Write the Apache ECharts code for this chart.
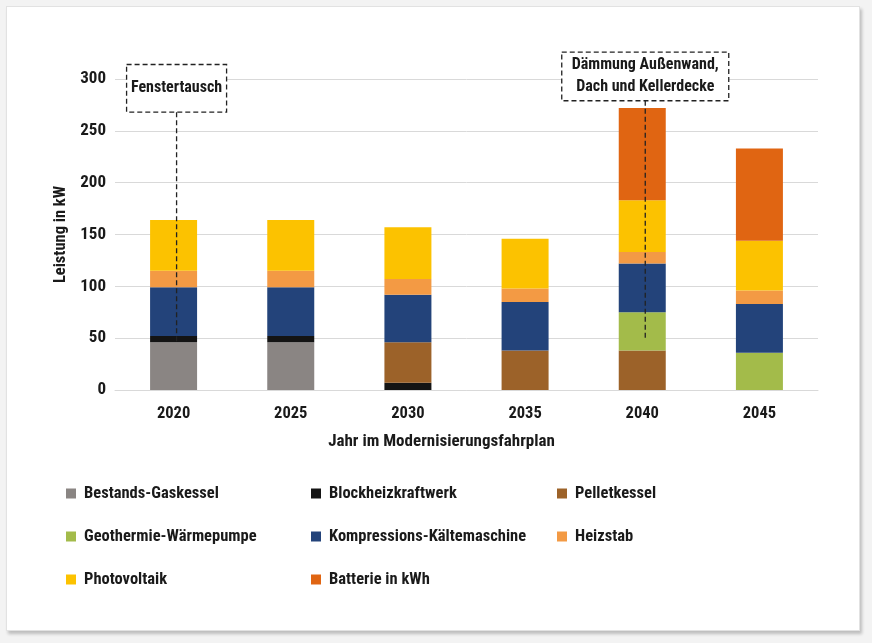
<!DOCTYPE html>
<html>
<head>
<meta charset="utf-8">
<script src="https://cdn.jsdelivr.net/npm/echarts@6/dist/echarts.min.js"></script>
<style>
  html, body { margin: 0; padding: 0; background: #f3f3f3; }
  #frame {
    position: absolute; left: 6px; top: 6px; width: 852px; height: 623px;
    background: #fff; border: 1px solid #e2e2e2;
    box-shadow: 2px 3px 3px rgba(0,0,0,0.22);
  }
  #main { position: absolute; left: 0; top: 0; width: 872px; height: 643px; }
</style>
</head>
<body>
<div id="frame"></div>
<div id="main"></div>
<script>
const years = ['2020', '2025', '2030', '2035', '2040', '2045'];

const gaskessel    = [46, 46, 0, 0, 0, 0];
const bhkw         = [6, 6, 7, 0, 0, 0];
const pellet       = [0, 0, 39, 38, 38, 0];
const geothermie   = [0, 0, 0, 0, 37, 36];
const kaelte       = [47, 47, 46, 47, 47, 47];
const heizstab     = [16, 16, 15, 13, 11, 13];
const pv           = [49, 49, 50, 48, 50, 48];
const batterie     = [0, 0, 0, 0, 89, 89];

const yTicks = [0, 50, 100, 150, 200, 250, 300];

const notes = [
    { year: '2020', lineEnd: 45, boxTop: 314, boxBottom: 268, width: 100, text: 'Fenstertausch' },
    { year: '2040', lineEnd: 48, boxTop: 326, boxBottom: 279, width: 167, text: 'Dämmung Außenwand,\nDach und Kellerdecke' }
];

const font = '"Liberation Sans Narrow", "Roboto Condensed", Roboto, sans-serif';
const textColor = '#1a1a1a';

// name, values, colour, legend column, legend row
const seriesDefs = [
    ['Bestands-Gaskessel', gaskessel, '#8a8583', 0, 0],
    ['Blockheizkraftwerk', bhkw, '#141414', 1, 0],
    ['Pelletkessel', pellet, '#9c6229', 2, 0],
    ['Geothermie-Wärmepumpe', geothermie, '#a3bb4a', 0, 1],
    ['Kompressions-Kältemaschine', kaelte, '#23437a', 1, 1],
    ['Heizstab', heizstab, '#f39a44', 2, 1],
    ['Photovoltaik', pv, '#fcc200', 0, 2],
    ['Batterie in kWh', batterie, '#e06512', 1, 2]
];

const legendX = [66, 311, 557];
const legendY = [485, 528, 571];

let chart = echarts.init(document.getElementById('main'));
let option = {
    backgroundColor: 'transparent',
    animation: false,
    grid: { left: 115, right: 54, top: 79, bottom: 253 },
    xAxis: {
        type: 'category',
        data: years,
        axisTick: { show: false },
        axisLine: { lineStyle: { color: '#d9d9d9', width: 1 } },
        axisLabel: { margin: 15, fontFamily: font, fontWeight: 'bold', fontSize: 16.5, color: textColor },
        name: 'Jahr im Modernisierungsfahrplan',
        nameLocation: 'middle',
        nameGap: 43,
        nameTextStyle: { fontFamily: font, fontWeight: 'bold', fontSize: 17, color: textColor, padding: [0, 50, 0, 0] }
    },
    yAxis: {
        type: 'value',
        min: yTicks[0],
        max: yTicks[yTicks.length - 1],
        interval: 50,
        axisLine: { show: false },
        axisTick: { show: false },
        splitLine: { lineStyle: { color: '#d9d9d9', width: 1 } },
        axisLabel: { margin: 9, fontFamily: font, fontWeight: 'bold', fontSize: 17, color: textColor },
        name: 'Leistung in kW',
        nameLocation: 'middle',
        nameGap: 45,
        nameRotate: 90,
        nameTextStyle: { fontFamily: font, fontWeight: 'bold', fontSize: 16.5, color: textColor }
    },
    legend: seriesDefs.map(function (d) {
        return {
            data: [d[0]],
            left: legendX[d[3]],
            top: legendY[d[4]],
            padding: 0,
            icon: 'rect',
            itemWidth: 10,
            itemHeight: 10,
            selectedMode: false,
            textStyle: { fontFamily: font, fontWeight: 'bold', fontSize: 16.5, color: textColor, padding: [0, 0, 0, 3] }
        };
    }),
    series: seriesDefs.map(function (d) {
        return {
            name: d[0],
            type: 'bar',
            stack: 'total',
            data: d[1],
            barWidth: 47,
            itemStyle: { color: d[2] }
        };
    })
};
chart.setOption(option);

// annotations: dashed box with text and a dashed leader down into the bar
let elements = [];
notes.forEach(function (n) {
    let top = chart.convertToPixel({ gridIndex: 0 }, [n.year, n.boxTop]);
    let bottom = chart.convertToPixel({ gridIndex: 0 }, [n.year, n.boxBottom]);
    let end = chart.convertToPixel({ gridIndex: 0 }, [n.year, n.lineEnd]);
    let cx = top[0] + 3;
    elements.push({
        type: 'rect',
        shape: { x: cx - n.width / 2, y: top[1], width: n.width, height: bottom[1] - top[1] },
        style: { fill: '#fff', stroke: '#222', lineWidth: 1.3, lineDash: [5, 3] },
        z: 100
    });
    elements.push({
        type: 'text',
        x: cx, y: (top[1] + bottom[1]) / 2,
        style: {
            text: n.text, align: 'center', verticalAlign: 'middle',
            fontFamily: font, fontWeight: 'bold', fontSize: 16, lineHeight: 22, fill: textColor
        },
        z: 101
    });
    elements.push({
        type: 'line',
        shape: { x1: cx, y1: bottom[1], x2: cx, y2: end[1] },
        style: { stroke: '#222', lineWidth: 1.3, lineDash: [5, 3] },
        z: 100
    });
});
chart.setOption({ graphic: elements });
</script>
</body>
</html>
